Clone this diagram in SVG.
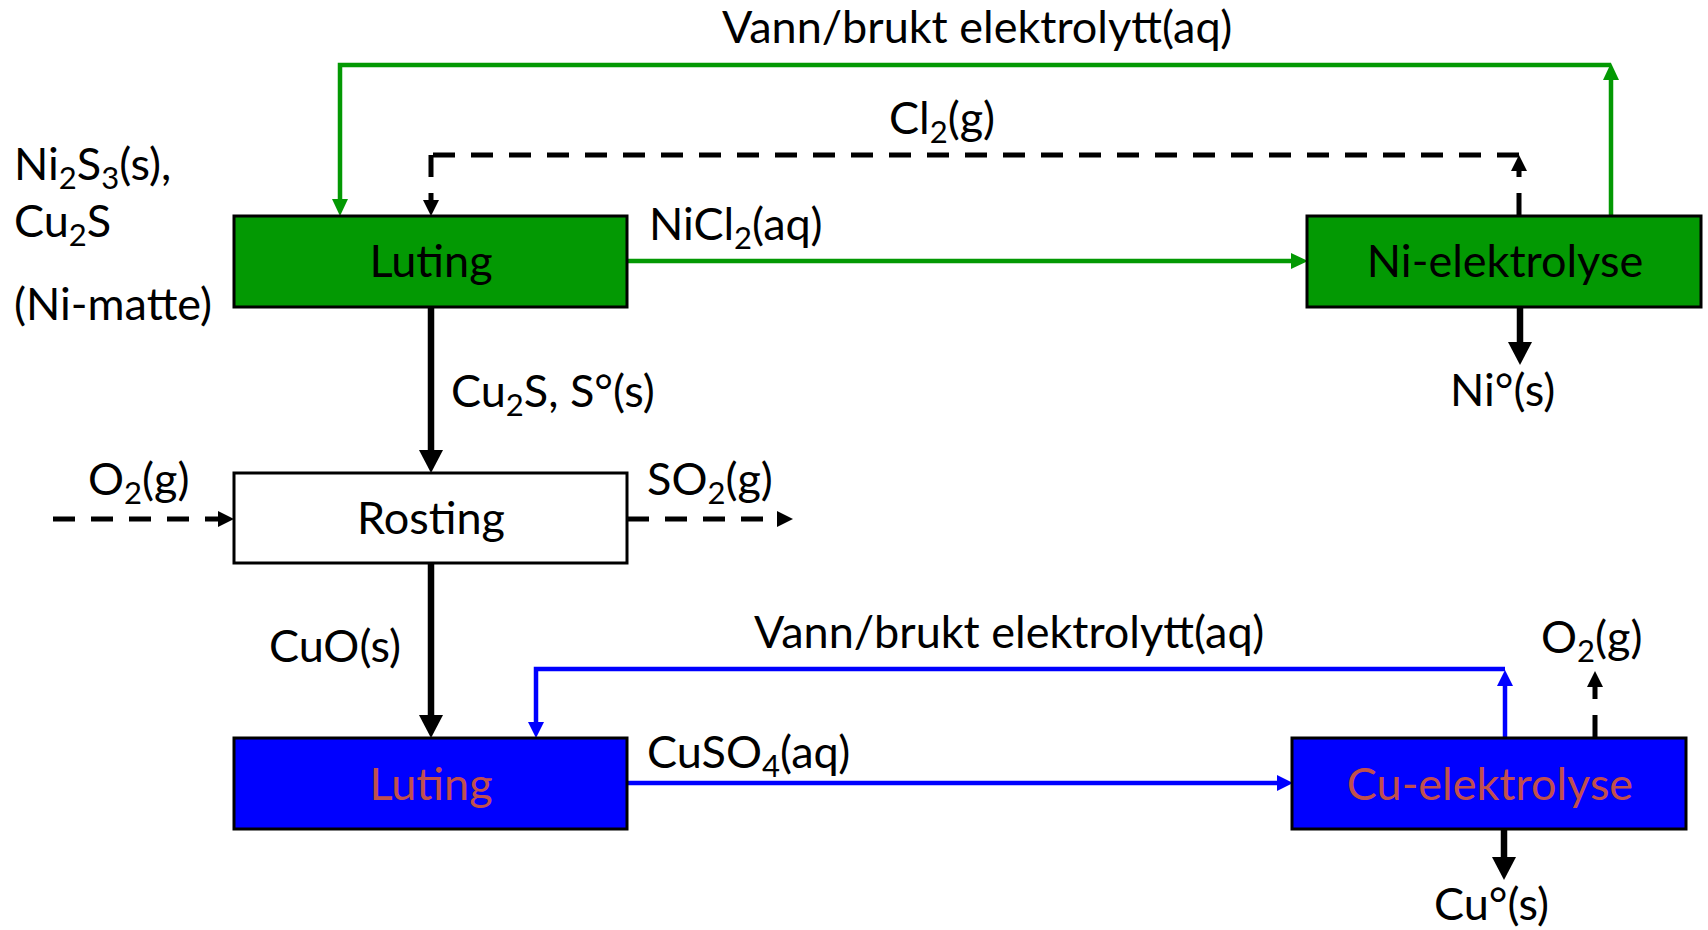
<svg xmlns="http://www.w3.org/2000/svg" width="1708" height="930" viewBox="0 0 1708 930">
<style>
.t{font-family:Lato,"Liberation Sans",sans-serif;font-size:45px;fill:#000}
.c{text-anchor:middle}
.o{fill:#C0504D}
.s{font-size:31px}
.box{stroke:#000;stroke-width:3}
.g{fill:#039903}.b{fill:#0000FF}.w{fill:#FFFFFF}
.cg{stroke:#039903;stroke-width:4.5;fill:none}
.cb{stroke:#0000FF;stroke-width:4.5;fill:none}
.ck{stroke:#000;stroke-width:6.5;fill:none}
.cd{stroke:#000;stroke-width:5;fill:none;stroke-dasharray:22 16}
</style>
<defs>
<marker id="ag" markerUnits="userSpaceOnUse" markerWidth="17" markerHeight="16" refX="0" refY="8" orient="auto"><path d="M0,0 L17,8 L0,16 z" fill="#039903"/></marker>
<marker id="ab" markerUnits="userSpaceOnUse" markerWidth="16" markerHeight="16" refX="0" refY="8" orient="auto"><path d="M0,0 L16,8 L0,16 z" fill="#0000FF"/></marker>
<marker id="ak" markerUnits="userSpaceOnUse" markerWidth="23" markerHeight="24" refX="0" refY="12" orient="auto"><path d="M0,0 L23,12 L0,24 z" fill="#000"/></marker>
<marker id="ad" markerUnits="userSpaceOnUse" markerWidth="16" markerHeight="16" refX="0" refY="8" orient="auto"><path d="M0,0 L16,8 L0,16 z" fill="#000"/></marker>
</defs>

<g id="connectors">
<path class="cg" d="M627,261 H1291" marker-end="url(#ag)"/>
<path class="cg" d="M1611,215 V80" marker-end="url(#ag)"/>
<path class="cg" d="M1611,65 H340 V199" marker-end="url(#ag)"/>
<path class="cd" d="M1519,215 V171" marker-end="url(#ad)"/>
<path class="cd" d="M1519,155 H431"/>
<path class="cd" d="M431,155 V200" marker-end="url(#ad)"/>
<path class="ck" d="M431,307 V450" marker-end="url(#ak)"/>
<path class="ck" d="M1520,307 V342" marker-end="url(#ak)"/>
<path class="cd" d="M53,519 H218" marker-end="url(#ad)"/>
<path class="cd" d="M627,519 H777" marker-end="url(#ad)"/>
<path class="ck" d="M431,563 V715" marker-end="url(#ak)"/>
<path class="cb" d="M627,783 H1277" marker-end="url(#ab)"/>
<path class="cb" d="M1505,737 V686" marker-end="url(#ab)"/>
<path class="cb" d="M1505,669 H536 V722" marker-end="url(#ab)"/>
<path class="cd" d="M1595,737 V687" marker-end="url(#ad)"/>
<path class="ck" d="M1504,829 V857" marker-end="url(#ak)"/>
</g>

<g id="luting-ni">
<rect class="box g" x="234" y="216" width="393" height="91"/>
<text class="t c" x="431" y="277">Luting</text>
</g>
<g id="ni-elektrolyse">
<rect class="box g" x="1307" y="216" width="394" height="91"/>
<text class="t c" x="1505" y="277">Ni-elektrolyse</text>
</g>
<g id="rosting">
<rect class="box w" x="234" y="473" width="393" height="90"/>
<text class="t c" x="431" y="534">Rosting</text>
</g>
<g id="luting-cu">
<rect class="box b" x="234" y="738" width="393" height="91"/>
<text class="t c o" x="431" y="800">Luting</text>
</g>
<g id="cu-elektrolyse">
<rect class="box b" x="1292" y="738" width="394" height="91"/>
<text class="t c o" x="1490" y="800">Cu-elektrolyse</text>
</g>

<g id="labels">
<text class="t" x="722" y="43">Vann/brukt elektrolytt(aq)</text>
<text class="t" x="889" y="134">Cl<tspan class="s" dy="9">2</tspan><tspan dy="-9">(g)</tspan></text>
<text class="t" x="14" y="180">Ni<tspan class="s" dy="9">2</tspan><tspan dy="-9">S</tspan><tspan class="s" dy="9">3</tspan><tspan dy="-9">(s),</tspan></text>
<text class="t" x="14" y="237">Cu<tspan class="s" dy="9">2</tspan><tspan dy="-9">S</tspan></text>
<text class="t" x="14" y="320">(Ni-matte)</text>
<text class="t" x="649" y="240">NiCl<tspan class="s" dy="9">2</tspan><tspan dy="-9">(aq)</tspan></text>
<text class="t" x="451" y="407">Cu<tspan class="s" dy="9">2</tspan><tspan dy="-9">S, S°(s)</tspan></text>
<text class="t" x="1450" y="406">Ni°(s)</text>
<text class="t" x="88" y="495">O<tspan class="s" dy="9">2</tspan><tspan dy="-9">(g)</tspan></text>
<text class="t" x="647" y="495">SO<tspan class="s" dy="9">2</tspan><tspan dy="-9">(g)</tspan></text>
<text class="t" x="269" y="662">CuO(s)</text>
<text class="t" x="754" y="648">Vann/brukt elektrolytt(aq)</text>
<text class="t" x="1541" y="653">O<tspan class="s" dy="9">2</tspan><tspan dy="-9">(g)</tspan></text>
<text class="t" x="647" y="768">CuSO<tspan class="s" dy="9">4</tspan><tspan dy="-9">(aq)</tspan></text>
<text class="t" x="1434" y="920">Cu°(s)</text>
</g>
</svg>
